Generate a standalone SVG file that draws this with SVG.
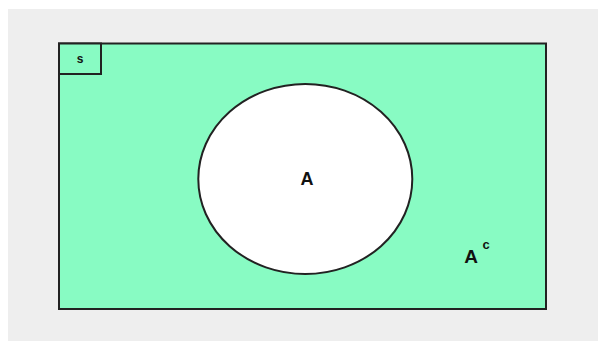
<svg xmlns="http://www.w3.org/2000/svg" width="598" height="341" viewBox="0 0 598 341">
<style>
.lbl{font-family:"Liberation Sans",Arial,sans-serif;font-weight:bold;fill:#111;}
</style>
<rect x="0" y="0" width="598" height="341" fill="#ffffff"/>
<rect x="8" y="9" width="590" height="332" fill="#eeeeee"/>
<g id="universe">
<rect x="59" y="43.5" width="487" height="265.5" fill="#88fbc3" stroke="#222" stroke-width="2"/>
<text class="lbl" x="471" y="263" font-size="19" text-anchor="middle">A</text>
<text class="lbl" x="486" y="249" font-size="13" text-anchor="middle">c</text>
</g>
<g id="s-label">
<rect x="59" y="43.5" width="42" height="30.5" fill="#88fbc3" stroke="#222" stroke-width="2"/>
<text class="lbl" x="80" y="63" font-size="12" text-anchor="middle">s</text>
</g>
<g id="setA">
<ellipse cx="305.3" cy="179" rx="107" ry="95" fill="#ffffff" stroke="#222" stroke-width="2"/>
<text class="lbl" x="307" y="185" font-size="18" text-anchor="middle">A</text>
</g>
</svg>
